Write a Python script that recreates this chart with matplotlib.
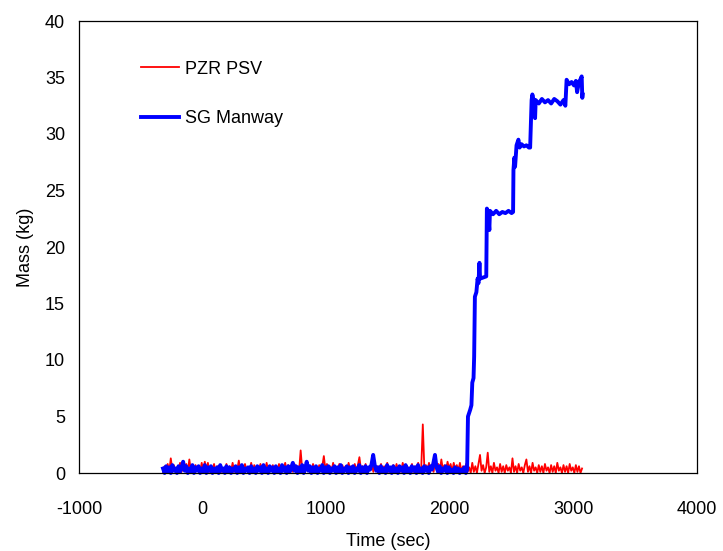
import numpy as np
import matplotlib.pyplot as plt

plt.rcParams['font.family'] = ['Liberation Sans', 'DejaVu Sans']
plt.rcParams['axes.unicode_minus'] = False

# PZR PSV mass, read every ~12.5 s from -320 s to 3070 s
pzr_mass = [0.1, 0.6, 0.2, 0.8, 0.1, 1.3, 0.3, 0.7, 0.1, 0.5,
            0.2, 0.9, 0.1, 0.6, 0.3, 0.8, 0.1, 1.2, 0.2, 0.5,
            0.1, 0.7, 0.3, 0.6, 0.1, 0.9, 0.2, 1.0, 0.3, 0.9,
            0.1, 0.5, 0.2, 0.8, 0.1, 0.6, 0.3, 0.7, 0.1, 0.4,
            0.2, 0.8, 0.1, 0.6, 0.2, 0.9, 0.1, 0.5, 0.3, 1.1,
            0.2, 0.6, 0.1, 0.8, 0.3, 0.5, 0.1, 0.9, 0.2, 0.7,
            0.1, 0.6, 0.3, 0.8, 0.1, 0.5, 0.2, 0.9, 0.1, 0.6,
            0.3, 0.7, 0.1, 0.5, 0.2, 0.8, 0.1, 0.6, 0.3, 0.9,
            0.1, 0.7, 0.2, 0.5, 0.1, 0.8, 0.3, 0.6, 0.2, 2.0,
            0.3, 0.7, 0.1, 0.9, 0.2, 0.6, 0.1, 0.8, 0.3, 0.5,
            0.1, 0.7, 0.2, 0.6, 1.5, 0.3, 0.8, 0.1, 0.6, 0.2,
            0.9, 0.1, 0.5, 0.3, 0.8, 0.1, 0.7, 0.2, 0.6, 0.1,
            0.9, 0.3, 0.6, 0.1, 0.8, 0.2, 0.7, 1.4, 0.3, 0.6,
            0.1, 0.8, 0.2, 0.5, 0.3, 0.9, 0.1, 0.7, 0.2, 0.6,
            0.3, 0.8, 0.1, 0.6, 0.2, 0.9, 0.1, 0.5, 0.3, 0.7,
            0.1, 0.8, 0.2, 0.6, 0.1, 0.9, 0.3, 0.7, 0.1, 0.5,
            0.2, 0.8, 0.1, 0.6, 0.3, 0.9, 0.2, 0.5, 4.3, 0.4,
            0.7, 0.2, 0.9, 0.3, 0.6, 0.1, 1.1, 0.4, 0.8, 0.2,
            1.2, 0.3, 0.7, 0.2, 1.0, 0.4, 0.8, 0.1, 0.9, 0.3,
            0.7, 0.2, 0.9, 0.1, 0.6, 0.0, 0.8, 0.1, 0.5, 0.0,
            0.9, 0.1, 0.6, 0.0, 0.8, 1.6, 0.2, 0.7, 0.0, 0.5,
            1.8, 0.1, 0.6, 0.0, 0.9, 0.2, 0.5, 0.0, 0.8, 0.1,
            0.6, 0.0, 0.7, 0.2, 0.5, 0.0, 1.3, 0.1, 0.6, 0.0,
            0.8, 0.2, 0.5, 0.0, 0.7, 1.2, 0.1, 0.6, 0.0, 0.9,
            0.2, 0.5, 0.0, 0.7, 0.1, 0.6, 0.0, 0.8, 0.2, 0.5,
            0.0, 0.7, 0.1, 0.6, 0.0, 0.9, 0.2, 0.5, 0.0, 0.7,
            0.1, 0.6, 0.0, 0.8, 0.2, 0.5, 0.0, 0.7, 0.1, 0.6,
            0.0, 0.4]
pzr_time = np.linspace(-320, 3070, len(pzr_mass))

# SG manway mass before the break (~12.5 s steps, -320 s to 2130 s)
sg_mass_pre = [0.4, 0.0, 0.6, 0.1, 0.5, 0.0, 0.7, 0.2, 0.4, 0.0,
               0.6, 0.1, 0.5, 1.0, 0.2, 0.6, 0.0, 0.4, 0.1, 0.7,
               0.0, 0.5, 0.2, 0.6, 0.0, 0.4, 0.1, 0.7, 0.0, 0.5,
               0.2, 0.6, 0.0, 0.4, 0.1, 0.5, 0.0, 0.7, 0.2, 0.4,
               0.0, 0.6, 0.1, 0.5, 0.0, 0.4, 0.2, 0.6, 0.0, 0.5,
               0.1, 0.7, 0.0, 0.4, 0.2, 0.5, 0.0, 0.6, 0.1, 0.4,
               0.0, 0.6, 0.2, 0.5, 0.0, 0.7, 0.1, 0.4, 0.0, 0.6,
               0.2, 0.5, 0.0, 0.6, 0.1, 0.4, 0.0, 0.7, 0.2, 0.5,
               0.0, 0.6, 0.1, 0.5, 0.9, 0.2, 0.6, 0.0, 0.5, 0.1,
               0.7, 0.0, 0.4, 1.0, 0.2, 0.6, 0.0, 0.5, 0.1, 0.6,
               0.0, 0.4, 0.2, 0.7, 0.0, 0.5, 0.1, 0.6, 0.0, 0.4,
               0.2, 0.6, 0.0, 0.5, 0.1, 0.7, 0.0, 0.4, 0.2, 0.6,
               0.0, 0.5, 0.1, 0.6, 0.0, 0.4, 0.2, 0.7, 0.0, 0.5,
               0.1, 0.6, 0.0, 0.5, 0.3, 0.8, 1.6, 0.7, 0.2, 0.5,
               0.0, 0.6, 0.1, 0.4, 0.0, 0.7, 0.2, 0.5, 0.0, 0.6,
               0.1, 0.4, 0.0, 0.6, 0.2, 0.5, 0.0, 0.7, 0.1, 0.4,
               0.0, 0.6, 0.2, 0.5, 0.0, 0.7, 0.1, 0.4, 0.0, 0.6,
               0.2, 0.5, 0.0, 0.6, 0.3, 0.9, 1.6, 0.5, 0.1, 0.6,
               0.0, 0.4, 0.2, 0.6, 0.0, 0.5, 0.1, 0.3, 0.0, 0.5,
               0.1, 0.4, 0.0, 0.3, 0.1, 0.5, 0.0]
sg_time_pre = np.linspace(-320, 2130, len(sg_mass_pre))

# SG manway mass after the break
sg_time_post = [2140, 2147, 2165, 2175, 2182, 2192, 2197, 2203, 2215, 2225,
                2232, 2240, 2245, 2270, 2295, 2300, 2310, 2320, 2325, 2350,
                2375, 2400, 2425, 2450, 2475, 2500, 2512, 2515, 2522, 2528,
                2540, 2555, 2565, 2580, 2600, 2620, 2640, 2650, 2662, 2668,
                2680, 2690, 2695, 2720, 2745, 2770, 2795, 2820, 2845, 2870,
                2895, 2920, 2935, 2945, 2965, 2985, 3005, 3020, 3030, 3045,
                3060, 3067, 3072, 3075]
sg_mass_post = [0.3, 5.0, 5.6, 6.0, 8.0, 8.4, 10.3, 15.6, 16.0, 17.2,
                16.8, 18.6, 17.2, 17.3, 17.4, 23.4, 23.0, 21.5, 23.2, 22.9,
                23.2, 22.9, 23.1, 23.0, 23.2, 23.0, 23.1, 26.8, 27.9, 27.1,
                29.0, 29.5, 28.8, 29.1, 28.9, 29.0, 28.8, 28.8, 33.0, 33.5,
                32.9, 31.4, 33.0, 32.7, 33.1, 32.8, 33.0, 32.7, 33.1, 32.9,
                32.6, 33.0, 32.5, 34.8, 34.4, 34.6, 34.3, 34.7, 33.7, 34.6,
                34.9, 35.1, 33.2, 33.5]

sg_time = np.concatenate([sg_time_pre, sg_time_post])
sg_mass = np.concatenate([sg_mass_pre, sg_mass_post])

fig = plt.figure(figsize=(7.23, 5.51), dpi=100)
ax = fig.add_axes([79 / 723, 1 - 473 / 551, 618 / 723, 452 / 551])

ax.plot(pzr_time, pzr_mass, color='#ff0000', lw=1.3, label='PZR PSV', clip_on=False)
ax.plot(sg_time, sg_mass, color='#0000ff', lw=2.8, label='SG Manway', clip_on=False)

ax.set_xlim(-1000, 4000)
ax.set_ylim(0, 40)
ax.set_xticks([-1000, 0, 1000, 2000, 3000, 4000])
ax.set_yticks(range(0, 41, 5))
ax.tick_params(length=0, labelsize=13)
ax.tick_params(axis='x', pad=20)
ax.tick_params(axis='y', pad=10)
for s in ax.spines.values():
    s.set_linewidth(0.9)

ax.set_xlabel('Time (sec)', fontsize=13, labelpad=11)
ax.set_ylabel('Mass (kg)', fontsize=13, labelpad=8)

ax.legend(loc='upper left', bbox_to_anchor=(62 / 618, 0.912), frameon=False,
          fontsize=13, borderpad=0, borderaxespad=0, handlelength=2.1,
          handletextpad=0.35, labelspacing=1.8)

fig.savefig('out.png', dpi=100)
